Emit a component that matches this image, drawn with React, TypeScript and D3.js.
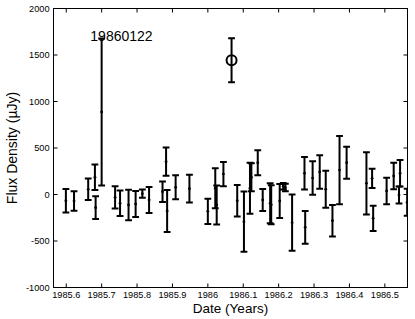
import React from "react";
import * as d3 from "d3";

const years = [
  1985.599, 1985.622, 1985.662, 1985.681, 1985.683, 1985.7, 1985.738, 1985.752, 1985.776, 1985.796,
  1985.815, 1985.834, 1985.872, 1985.882, 1985.885, 1985.909, 1985.948, 1986.0, 1986.021, 1986.025,
  1986.044, 1986.083, 1986.102, 1986.119, 1986.123, 1986.141, 1986.155, 1986.176, 1986.179, 1986.203,
  1986.213, 1986.219, 1986.238, 1986.273, 1986.275, 1986.296, 1986.316, 1986.333, 1986.352, 1986.372,
  1986.392, 1986.448, 1986.464, 1986.467, 1986.505, 1986.525, 1986.54, 1986.543, 1986.563,
];
const fluxes = [
  -67, -70, 56, 185, -142, 887, -30, -95, -113, -102,
  9, -59, 30, 353, -177, 77, 63, -181, 67, -113,
  220, -67, -292, 67, 185, 342, -59, -95, -110, -70,
  90, 75, -303, 228, -353, 177, 242, 56, -282, 263,
  342, 120, 174, -256, 38, 199, -5, 228, -84,
];
const errors = [
  127, 105, 115, 137, 122, 790, 120, 137, 165, 140,
  45, 140, 110, 152, 225, 129, 150, 135, 215, 210,
  130, 170, 323, 275, 150, 135, 118, 215, 210, 183,
  35, 40, 303, 174, 176, 181, 181, 199, 169, 367,
  172, 335, 103, 136, 142, 142, 91, 143, 145,
];
const flareYear = [1986.067];
const flareFlux = [1443];
const flareErr = [237];
const xTicks = [1985.6, 1985.7, 1985.8, 1985.9, 1986.0, 1986.1, 1986.2, 1986.3, 1986.4, 1986.5];
const xTickLabels = ["1985.6", "1985.7", "1985.8", "1985.9", "1986", "1986.1", "1986.2", "1986.3", "1986.4", "1986.5"];
const yTicks = [-1000, -500, 0, 500, 1000, 1500, 2000];
const yTickLabels = ["-1000", "-500", "0", "500", "1000", "1500", "2000"];
const annotation = { text: "19860122", year: 1985.668, flux: 1700 };

const W = 415;
const H = 319;
const L = 53.5;
const R = 407.5;
const T = 8.5;
const B = 287.5;
const FONT = "'Liberation Sans', Arial, Helvetica, sans-serif";

export default function App() {
  const x = d3.scaleLinear().domain([1985.564, 1986.564]).range([L, R]);
  const y = d3.scaleLinear().domain([-1000, 2000]).range([B, T]);
  const cap = 3.4;
  const tick = 4;

  const bar = (yr: number, v: number, e: number, key: string) => {
    const cx = x(yr);
    const y1 = y(v + e);
    const y0 = y(v - e);
    return (
      <g key={key}>
        <line x1={cx} x2={cx} y1={y1} y2={y0} stroke="#000" strokeWidth={2} />
        <line x1={cx - cap} x2={cx + cap} y1={y1} y2={y1} stroke="#000" strokeWidth={2} />
        <line x1={cx - cap} x2={cx + cap} y1={y0} y2={y0} stroke="#000" strokeWidth={2} />
      </g>
    );
  };

  return (
    <div style={{ position: "fixed", left: 0, top: 0 }}>
      <svg width={W} height={H} style={{ display: "block", background: "#fff" }}>
        <rect x={0} y={0} width={W} height={H} fill="#fff" />
        <defs>
          <clipPath id="plotclip">
            <rect x={L} y={T} width={R - L} height={B - T} />
          </clipPath>
        </defs>
        <g clipPath="url(#plotclip)">
          {years.map((yr, i) => bar(yr, fluxes[i], errors[i], "b" + i))}
          {years.map((yr, i) => (
            <circle key={"d" + i} cx={x(yr)} cy={y(fluxes[i])} r={1.4} fill="#000" />
          ))}
          {flareYear.map((yr, i) => bar(yr, flareFlux[i], flareErr[i], "f" + i))}
          {flareYear.map((yr, i) => (
            <circle key={"fc" + i} cx={x(yr)} cy={y(flareFlux[i])} r={5} fill="none" stroke="#000" strokeWidth={2} />
          ))}
        </g>
        <rect x={L} y={T} width={R - L} height={B - T} fill="none" stroke="#000" strokeWidth={1} />
        {xTicks.map((t, i) => (
          <g key={"xt" + i}>
            <line x1={x(t)} x2={x(t)} y1={B} y2={B - tick} stroke="#000" strokeWidth={1} />
            <line x1={x(t)} x2={x(t)} y1={T} y2={T + tick} stroke="#000" strokeWidth={1} />
            <text x={x(t)} y={B + 10} textAnchor="middle" fontFamily={FONT} fontSize={9.2} fill="#000">
              {xTickLabels[i]}
            </text>
          </g>
        ))}
        {yTicks.map((t, i) => (
          <g key={"yt" + i}>
            <line x1={L} x2={L + tick} y1={y(t)} y2={y(t)} stroke="#000" strokeWidth={1} />
            <line x1={R} x2={R - tick} y1={y(t)} y2={y(t)} stroke="#000" strokeWidth={1} />
            <text x={L - 4} y={y(t)} dy="0.35em" textAnchor="end" fontFamily={FONT} fontSize={9.2} fill="#000">
              {yTickLabels[i]}
            </text>
          </g>
        ))}
        <text
          x={x(annotation.year)}
          y={y(annotation.flux)}
          dy="0.35em"
          fontFamily={FONT}
          fontSize={14}
          fill="#000"
        >
          {annotation.text}
        </text>
        <text x={(L + R) / 2} y={312.5} textAnchor="middle" fontFamily={FONT} fontSize={13.5} fill="#000">
          Date (Years)
        </text>
        <text
          transform={`translate(17,${(T + B) / 2}) rotate(-90)`}
          textAnchor="middle"
          fontFamily={FONT}
          fontSize={14}
          fill="#000"
        >
          Flux Density (µJy)
        </text>
      </svg>
    </div>
  );
}
